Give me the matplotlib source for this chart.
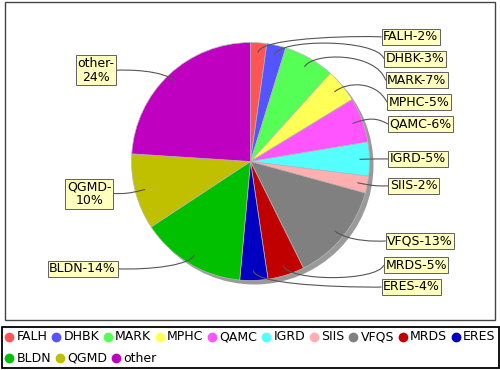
import numpy as np
import matplotlib
matplotlib.use("Agg")
import matplotlib.pyplot as plt
from matplotlib.path import Path
from matplotlib.patches import PathPatch, Circle, Rectangle

# data
names = ["FALH", "DHBK", "MARK", "MPHC", "QAMC", "IGRD", "SIIS",
         "VFQS", "MRDS", "ERES", "BLDN", "QGMD", "other"]
shares = [2.2, 2.6, 6.9, 4.6, 6.1, 4.6, 2.3, 13.4, 5.0, 3.8, 14.3, 10.3, 24.0]
colors = ["#FF5555", "#5555FF", "#55FF55", "#FFFF55", "#FF55FF", "#55FFFF",
          "#FFAFAF", "#808080", "#C00000", "#0000C0", "#00C000", "#C0C000",
          "#C000C0"]
wrapped = {"QGMD", "other"}

# layout (pixel units, y measured from the top)
W, H = 500, 370
cx, cy, r = 250.5, 161.5, 119.0
FS = 9.0


def Y(y):
    return H - y


fig = plt.figure(figsize=(5, 3.7), dpi=100)
ax = fig.add_axes([0, 0, 1, 1])
renderer = fig.canvas.get_renderer()

# shadow under the pie
ax.add_patch(Circle((cx + 4, Y(cy + 4)), r, color="#9a9a9a", zorder=0, lw=0))

wedges, _ = ax.pie(shares, colors=colors, startangle=90, counterclock=False,
                   center=(cx, Y(cy)), radius=r, frame=False,
                   wedgeprops=dict(edgecolor="#b8b8b8", linewidth=0.5))

total = sum(shares)

# label records
right, left = [], []
for w, name, s in zip(wedges, names, shares):
    mid = np.radians((w.theta1 + w.theta2) / 2)
    pct = 100 * s / total
    txt = f"{name}-\n{pct:.0f}%" if name in wrapped else f"{name}-{pct:.0f}%"
    h = 34 if name in wrapped else 18
    rec = [cy - 125 * np.sin(mid), h, mid, txt]
    (right if np.cos(mid) >= 0 else left).append(rec)


def spread(recs, y_lo, y_hi, gap=3.8):
    recs.sort(key=lambda q: q[0])
    for a, b in zip(recs, recs[1:]):
        lim = a[0] + a[1] / 2 + gap + b[1] / 2
        if b[0] < lim:
            b[0] = min(lim, y_hi - b[1] / 2)
    rev = recs[::-1]
    for a, b in zip(rev, rev[1:]):
        lim = a[0] - a[1] / 2 - gap - b[1] / 2
        if b[0] > lim:
            b[0] = max(lim, y_lo + b[1] / 2)


spread(right, 28, 296)
spread(left, 28, 296)

pad_px = 0.12 * FS * 100 / 72
for side, recs in ((1, right), (-1, left)):
    for y, h, mid, txt in recs:
        edge = cx + side * 138 * np.sqrt(1 - ((y - cy) / 400) ** 2)
        # link curve
        p0 = (cx + 109 * np.cos(mid), Y(cy - 109 * np.sin(mid)))
        p1 = (cx + 126 * np.cos(mid), Y(cy - 126 * np.sin(mid)))
        p2 = (cx + side * 126, p1[1])
        p3 = (edge, Y(y))
        path = Path([p0, p1, p2, p3],
                    [Path.MOVETO, Path.CURVE4, Path.CURVE4, Path.CURVE4])
        ax.add_patch(PathPatch(path, fc="none", ec="#555555", lw=0.8, zorder=3))
        ha = "left" if side == 1 else "right"
        tx = edge + side * pad_px
        t = ax.text(tx, Y(y), txt, ha=ha, va="center", fontsize=FS,
                    multialignment="center", zorder=5, linespacing=1.1,
                    bbox=dict(boxstyle="square,pad=0.12", fc="#FFFFC0",
                              ec="#606060", lw=0.7))
        bb = t.get_window_extent(renderer)
        ax.add_patch(Rectangle((bb.x0 - pad_px + 2, bb.y0 - pad_px - 2),
                               bb.width + 2 * pad_px, bb.height + 2 * pad_px,
                               fc="#c4c4c4", ec="none", zorder=4))

# frames
ax.add_patch(Rectangle((5, Y(320)), 490, 318, fill=False, ec="#444444",
                       lw=1.0, clip_on=False, zorder=6))
ax.add_patch(Rectangle((1.5, Y(368)), 497, 41.5, fill=False, ec="black",
                       lw=1.3, clip_on=False, zorder=6))

# legend, flow layout
x, row_y = 9, 337
for name, col in zip(names, colors):
    t = ax.text(x + 7.5, Y(row_y), name, ha="left", va="center", fontsize=FS)
    tw = t.get_window_extent(renderer).width
    if x + 7.5 + tw > 499:
        x, row_y = 9, row_y + 21
        t.set_position((x + 7.5, Y(row_y)))
    ax.plot(x, Y(row_y), "o", ms=6, color=col, mec=col, clip_on=False)
    x += 7.5 + tw + 8.5

ax.set_xlim(0, W)
ax.set_ylim(0, H)
ax.set_aspect("auto")
ax.axis("off")

fig.savefig("out.png", dpi=100, facecolor="white")
